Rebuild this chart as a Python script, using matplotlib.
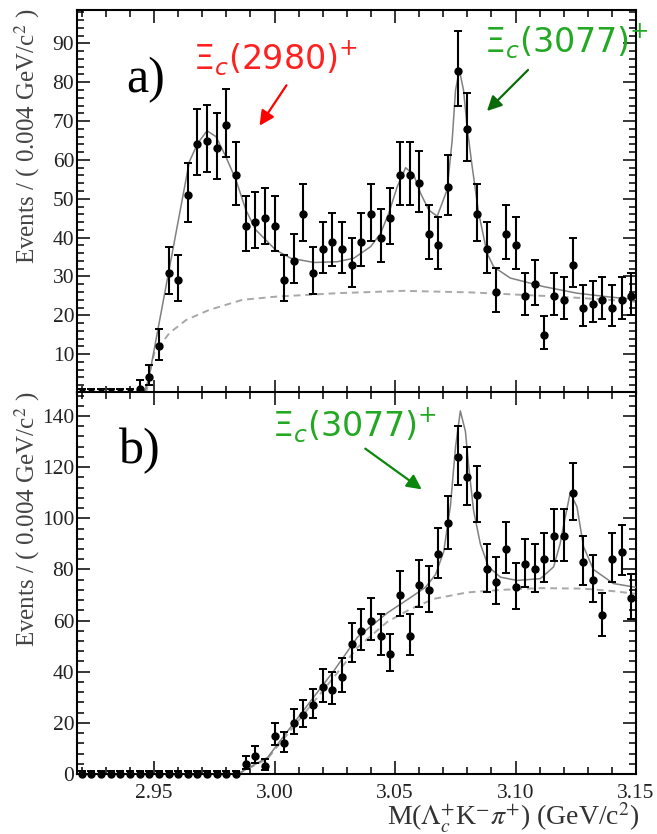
import numpy as np
import matplotlib
matplotlib.use('Agg')
import matplotlib.pyplot as plt
from matplotlib.ticker import MultipleLocator, FormatStrFormatter

plt.rcParams['font.family'] = 'Liberation Serif'

W, H = 657, 834

# bin centres: 58 bins of 0.004 GeV from 2.918 to 3.150
mass = 2.920 + 0.004 * np.arange(58)

# panel a) data
counts_a = [0, 0, 0, 0, 0, 0, 1, 4, 12, 31, 29, 51, 64, 65, 63, 69, 56, 43, 44, 45,
            43, 29, 34, 46, 31, 37, 39, 37, 33, 39, 46, 40, 45, 56, 56, 54, 41, 38, 53, 83,
            68, 46, 37, 26, 41, 38, 25, 28, 15, 25, 24, 33, 22, 23, 24, 22, 24, 25]
err_lo_a = [0, 0, 0, 0, 0, 0, 0.8, 1.9, 3.4, 5.5, 5.4, 7.1, 8.0, 8.0, 7.9, 8.3, 7.5, 6.5, 6.6, 6.7,
            6.5, 5.4, 5.8, 6.8, 5.5, 6.1, 6.2, 6.1, 5.7, 6.2, 6.8, 6.3, 6.7, 7.5, 7.5, 7.3, 6.4, 6.1, 7.3, 9.1,
            8.2, 6.8, 6.1, 5.1, 6.4, 6.1, 5.0, 5.3, 3.8, 5.0, 4.9, 5.7, 4.7, 4.8, 4.9, 4.7, 4.9, 5.0]
err_hi_a = [1.15, 1.15, 1.15, 1.15, 1.15, 1.15, 2.3, 3.2, 4.5, 6.6, 6.4, 8.2, 9.0, 9.1, 9.0, 9.3, 8.5, 7.6, 7.7, 7.8,
            7.6, 6.4, 6.9, 7.8, 6.6, 7.1, 7.3, 7.1, 6.8, 7.3, 7.8, 7.4, 7.8, 8.5, 8.5, 8.4, 7.4, 7.2, 8.3, 10.1,
            9.3, 7.8, 7.1, 6.1, 7.4, 7.2, 6.0, 6.3, 4.9, 6.0, 5.9, 6.8, 5.7, 5.8, 5.9, 5.7, 5.9, 6.0]

# panel a) fit (total) and background
fit_m_a = [2.9459, 2.9478, 2.9646, 2.9681, 2.9720, 2.9757, 2.9798, 2.9840, 2.9881, 2.9922,
           3.0005, 3.0067, 3.0164, 3.0261, 3.0329, 3.0399, 3.0440, 3.0474, 3.0509, 3.0544,
           3.0578, 3.0606, 3.0640, 3.0675, 3.0716, 3.0737, 3.0751, 3.0767, 3.0784, 3.0800,
           3.0820, 3.0847, 3.0882, 3.0909, 3.0978, 3.1116, 3.1255, 3.1392, 3.1500]
fit_v_a = [0, 3.8, 59.5, 64.3, 67.5, 66.0, 60.8, 54.8, 47.1, 42.0,
           36.8, 34.7, 33.6, 33.8, 34.7, 37.7, 41.1, 46.3, 53.1, 58.0,
           56.1, 51.4, 47.1, 45.5, 52.3, 65.0, 78.0, 83.1, 78.0, 68.0,
           58.3, 46.3, 36.0, 32.5, 29.6, 27.4, 25.7, 24.7, 24.1]
bkg_m_a = [2.9467, 2.9488, 2.9501, 2.9563, 2.9633, 2.9729, 2.9867, 3.0005, 3.0261, 3.0536,
           3.0813, 3.1185, 3.1500]
bkg_v_a = [0, 7.0, 10.3, 15.4, 18.8, 21.4, 24.0, 24.8, 25.7, 26.3, 25.9, 24.8, 23.5]

# panel b) data
counts_b = [0, 0, 0, 0, 0, 0, 0, 0, 0, 0, 0, 0, 0, 0, 0, 0, 0, 4, 7, 3,
            15, 12, 20, 23, 27, 34, 33, 38, 51, 56, 60, 54, 47, 70, 54, 74, 72, 86, 98, 124,
            116, 109, 80, 75, 88, 73, 82, 80, 84, 93, 93, 110, 83, 76, 62, 84, 87, 69]
err_lo_b = [0, 0, 0, 0, 0, 0, 0, 0, 0, 0, 0, 0, 0, 0, 0, 0, 0, 1.9, 2.6, 1.6,
            3.8, 3.4, 4.4, 4.8, 5.2, 5.8, 5.7, 6.1, 7.1, 7.5, 7.7, 7.3, 6.8, 8.3, 7.3, 8.6, 8.5, 9.3, 9.9, 11.1,
            10.8, 10.4, 8.9, 8.6, 9.4, 8.5, 9.0, 8.9, 9.1, 9.6, 9.6, 10.5, 9.1, 8.7, 7.9, 9.1, 9.3, 8.3]
err_hi_b = [1.15] * 17 + [3.2, 3.8, 2.9,
            4.9, 4.5, 5.5, 5.8, 6.2, 6.9, 6.8, 7.2, 8.2, 8.5, 8.8, 8.4, 7.9, 9.4, 8.4, 9.6, 9.5, 10.3, 10.9, 12.2,
            11.8, 11.5, 9.9, 9.7, 10.4, 9.6, 10.0, 9.9, 10.2, 10.7, 10.7, 11.5, 10.1, 9.8, 8.9, 10.2, 10.4, 9.4]

fit_m_b = [2.9847, 2.9971, 3.0109, 3.0247, 3.0344, 3.0468, 3.0564, 3.0626, 3.0668, 3.0702,
           3.0730, 3.0751, 3.0771, 3.0792, 3.0806, 3.0826, 3.0854, 3.0888, 3.0937, 3.1006,
           3.1103, 3.1158, 3.1185, 3.1199, 3.1227, 3.1255, 3.1282, 3.1323, 3.1406, 3.1500]
fit_v_b = [0, 6.5, 23.5, 40.5, 53.5, 63.0, 69.0, 73.0, 78.0, 87.0,
           105.0, 128.0, 142.0, 134.0, 120.0, 103.0, 90.0, 81.0, 77.0, 75.7,
           76.4, 81.0, 90.0, 97.0, 110.0, 104.5, 89.0, 80.0, 74.5, 73.0]
bkg_m_b = [2.9847, 2.9971, 3.0109, 3.0247, 3.0344, 3.0468, 3.0564, 3.0661, 3.0799, 3.0937,
           3.1103, 3.1282, 3.1406, 3.1500]
bkg_v_b = [0, 6.0, 22.0, 38.0, 49.5, 59.5, 64.5, 68.5, 71.0, 72.0, 72.7, 72.5, 71.5, 70.5]

tick_col = '#222222'


def px(x, y):
    return x / W, 1 - y / H


def style(ax, ymax, ymaj, ymin):
    ax.set_xlim(2.918, 3.150)
    ax.set_ylim(0, ymax)
    ax.xaxis.set_major_locator(MultipleLocator(0.05))
    ax.xaxis.set_minor_locator(MultipleLocator(0.01))
    ax.xaxis.set_major_formatter(FormatStrFormatter('%.2f'))
    ax.yaxis.set_major_locator(MultipleLocator(ymaj))
    ax.yaxis.set_minor_locator(MultipleLocator(ymin))
    ax.tick_params(which='both', direction='in', top=True, right=True, width=1.1,
                   labelsize=15.5, labelcolor=tick_col)
    ax.tick_params(which='major', length=9.5)
    ax.tick_params(which='minor', length=5)
    ax.tick_params(axis='x', pad=7)
    ax.tick_params(axis='y', pad=2)
    for s in ax.spines.values():
        s.set_linewidth(1.5)


def draw(ax, counts, lo, hi, fm, fv, bm, bv):
    ax.plot(bm, bv, color='#a8a8a8', lw=1.4, ls=(0, (3.5, 2.5)), zorder=2)
    ax.plot(fm, fv, color='#808080', lw=1.1, zorder=3)
    ax.errorbar(mass, counts, yerr=[lo, hi], fmt='o', color='black', ms=5,
                elinewidth=1.5, capsize=2.8, capthick=1.4, zorder=5, clip_on=False)


fig = plt.figure(figsize=(W / 100, H / 100), dpi=100)
ax_a = fig.add_axes([77 / W, 1 - 393 / H, 559 / W, 383 / H])
ax_b = fig.add_axes([77 / W, 1 - 774 / H, 559 / W, 382 / H])

draw(ax_a, counts_a, err_lo_a, err_hi_a, fit_m_a, fit_v_a, bkg_m_a, bkg_v_a)
style(ax_a, 98.6, 10, 2)
ax_a.set_yticks(range(10, 100, 10))
ax_a.tick_params(axis='x', labelbottom=False)

draw(ax_b, counts_b, err_lo_b, err_hi_b, fit_m_b, fit_v_b, bkg_m_b, bkg_v_b)
style(ax_b, 149.4, 20, 4)

ylab = 'Events / ( 0.004 GeV/c$^{2}$ )'
fig.text(*px(27, 8), ylab, rotation=90, ha='center', va='top', fontsize=18,
         color='#444444', math_fontfamily='stix')
fig.text(*px(27, 391), ylab, rotation=90, ha='center', va='top', fontsize=18,
         color='#444444', math_fontfamily='stix')
fig.text(*px(640, 826), r'M($\Lambda_{c}^{+}$K$^{-}\pi^{+}$) (GeV/c$^{2}$)', ha='right',
         va='baseline', fontsize=20, color='#333333', math_fontfamily='stix')

fig.text(*px(126, 92), 'a)', fontsize=36, va='baseline')
fig.text(*px(119, 463), 'b)', fontsize=36, va='baseline')

fig.text(*px(193, 70), r'$\Xi_{c}(2980)^{+}$', fontsize=24, color='#ff2020',
         va='baseline', math_fontfamily='dejavusans')
fig.text(*px(484, 53), r'$\Xi_{c}(3077)^{+}$', fontsize=24, color='#22a822',
         va='baseline', math_fontfamily='dejavusans')
fig.text(*px(272, 437), r'$\Xi_{c}(3077)^{+}$', fontsize=24, color='#22a822',
         va='baseline', math_fontfamily='dejavusans')

arrows = [((288, 83), (258, 128), '#ff0000'),
          ((530, 68), (485, 113), '#0b6b0b'),
          ((363, 447), (424, 491), '#0b880b')]
for tail, head, col in arrows:
    fig.add_artist(matplotlib.patches.FancyArrowPatch(
        px(*tail), px(*head), transform=fig.transFigure, arrowstyle='-|>',
        mutation_scale=22, color=col, lw=1.6))

fig.savefig('out.png', dpi=100)
